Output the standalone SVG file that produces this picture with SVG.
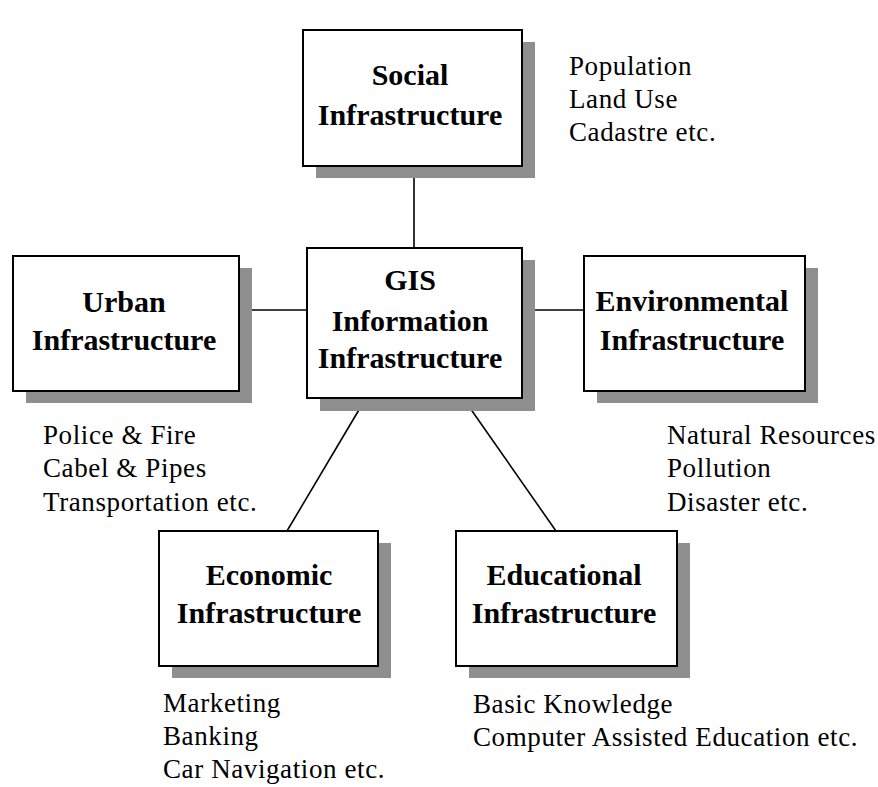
<svg xmlns="http://www.w3.org/2000/svg" width="878" height="787" viewBox="0 0 878 787">
  <style>
    .shadow { fill: #8f8f8f; }
    .box { fill: #ffffff; stroke: #000000; stroke-width: 2; }
    .title { font-family: "Liberation Serif", "Times New Roman", serif; font-weight: bold; font-size: 30px; fill: #000000; text-anchor: middle; }
    .note { font-family: "Liberation Serif", "Times New Roman", serif; font-size: 27px; letter-spacing: 0.6px; fill: #000000; }
    .link { stroke: #000000; stroke-width: 1.6; fill: none; }
  </style>
  <rect width="878" height="787" fill="#ffffff"/>

  <!-- connectors -->
  <g id="connectors">
    <line class="link" x1="414" y1="166" x2="414" y2="248"/>
    <line class="link" x1="239" y1="310" x2="307" y2="310"/>
    <line class="link" x1="522" y1="310" x2="584" y2="310"/>
    <line class="link" x1="366" y1="398" x2="287" y2="531"/>
    <line class="link" x1="463" y1="398" x2="556" y2="531"/>
  </g>

  <g id="social">
    <rect class="shadow" x="316" y="42" width="219" height="136"/>
    <rect class="box" x="303" y="30" width="219" height="136"/>
    <text class="title" x="410" y="85">Social</text>
    <text class="title" x="410" y="125">Infrastructure</text>
  </g>

  <g id="urban">
    <rect class="shadow" x="26" y="268" width="226" height="135"/>
    <rect class="box" x="13" y="256" width="226" height="135"/>
    <text class="title" x="124" y="312">Urban</text>
    <text class="title" x="124" y="350">Infrastructure</text>
  </g>

  <g id="gis">
    <rect class="shadow" x="320" y="260" width="215" height="151"/>
    <rect class="box" x="307" y="248" width="215" height="150"/>
    <text class="title" x="410" y="290">GIS</text>
    <text class="title" x="410" y="331">Information</text>
    <text class="title" x="410" y="368">Infrastructure</text>
  </g>

  <g id="environmental">
    <rect class="shadow" x="597" y="268" width="221" height="135"/>
    <rect class="box" x="584" y="256" width="221" height="135"/>
    <text class="title" x="692" y="311">Environmental</text>
    <text class="title" x="692" y="350">Infrastructure</text>
  </g>

  <g id="economic">
    <rect class="shadow" x="172" y="543" width="219" height="135"/>
    <rect class="box" x="159" y="531" width="219" height="135"/>
    <text class="title" x="269" y="585">Economic</text>
    <text class="title" x="269" y="623">Infrastructure</text>
  </g>

  <g id="educational">
    <rect class="shadow" x="469" y="543" width="221" height="135"/>
    <rect class="box" x="456" y="531" width="221" height="135"/>
    <text class="title" x="564" y="585">Educational</text>
    <text class="title" x="564" y="623">Infrastructure</text>
  </g>

  <!-- side notes -->
  <g id="social-notes">
    <text class="note" x="569" y="75">Population</text>
    <text class="note" x="569" y="108">Land Use</text>
    <text class="note" x="569" y="141">Cadastre etc.</text>
  </g>
  <g id="urban-notes">
    <text class="note" x="43" y="444">Police &amp; Fire</text>
    <text class="note" x="43" y="477">Cabel &amp; Pipes</text>
    <text class="note" x="43" y="511">Transportation etc.</text>
  </g>
  <g id="environmental-notes">
    <text class="note" x="667" y="444">Natural Resources</text>
    <text class="note" x="667" y="477">Pollution</text>
    <text class="note" x="667" y="511">Disaster etc.</text>
  </g>
  <g id="economic-notes">
    <text class="note" x="163" y="712">Marketing</text>
    <text class="note" x="163" y="745">Banking</text>
    <text class="note" x="163" y="778">Car Navigation etc.</text>
  </g>
  <g id="educational-notes">
    <text class="note" x="473" y="713">Basic Knowledge</text>
    <text class="note" x="473" y="746">Computer Assisted Education etc.</text>
  </g>
</svg>
